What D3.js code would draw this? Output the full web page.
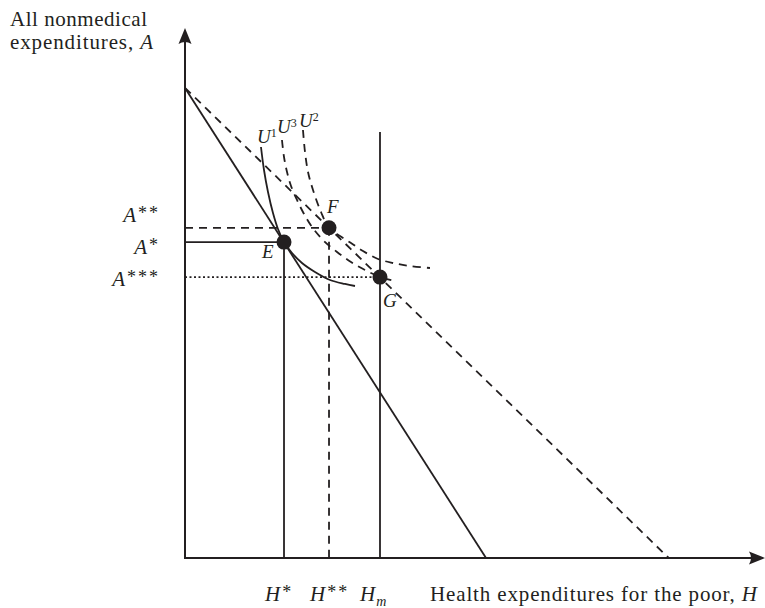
<!DOCTYPE html>
<html>
<head>
<meta charset="utf-8">
<script src="https://cdn.jsdelivr.net/npm/d3@7/dist/d3.min.js"></script>
<style>
  html, body { margin: 0; padding: 0; background: #fff; }
  svg { display: block; }
  text { font-family: "Liberation Serif", "DejaVu Serif", serif; fill: #231f20; }
</style>
</head>
<body>
<script>
// ---------- data ----------
const budgetSolid  = [[0, 88.7], [51.9, 0]];
const budgetDashed = [[0, 88.7], [83.4, 0]];

const pointNames = ["E", "F", "G"];
const pointH     = [17.07, 24.83, 33.62];
const pointA     = [59.6, 62.3, 53.0];

const u1 = [[13.10,77.55],[13.62,73.21],[14.31,69.06],[15.17,65.09],[16.03,62.08],[17.07,59.62],
            [18.45,57.55],[20.17,55.66],[22.41,53.96],[25.00,52.45],[27.59,51.70],[29.31,51.32]];
const u3 = [[16.72,78.87],[17.07,75.66],[17.59,72.83],[18.28,70.19],[19.31,67.55],[20.52,64.91],
            [21.90,62.45],[23.79,60.00],[26.21,57.74],[28.62,55.85],[31.03,54.34],[33.62,53.02],[36.21,52.26]];
const u2 = [[20.34,80.75],[20.69,76.60],[21.21,72.83],[22.07,69.43],[23.45,65.28],[24.83,62.30],
            [26.72,60.75],[28.62,59.43],[30.69,57.92],[33.28,56.42],[35.86,55.66],[38.79,55.09],[42.24,54.72]];

const hmTop = 80.4;

const yTickNames  = ["A", "A", "A"];
const yTickStars  = ["**", "*", "***"];
const yTickValues = [62.3, 59.6, 53.0];

const xTickNames  = ["H", "H", "H"];
const xTickMarks  = ["*", "**", "m"];
const xTickValues = [17.07, 24.83, 33.62];

const yTitle = ["All nonmedical", "expenditures, "];
const xTitle = "Health expenditures for the poor, ";

// ---------- layout ----------
const W = 765, H = 608;
const x = d3.scaleLinear().domain([0, 100]).range([185, 765]);
const y = d3.scaleLinear().domain([0, 100]).range([558, 28]);

const svg = d3.select("body").append("svg").attr("width", W).attr("height", H);
const ink = "#231f20";
const line = d3.line().x(d => x(d[0])).y(d => y(d[1]));
const curve = d3.line().x(d => x(d[0])).y(d => y(d[1])).curve(d3.curveCatmullRom.alpha(0.5));

// axes
svg.append("line").attr("x1", x(0)).attr("x2", x(0)).attr("y1", y(0)).attr("y2", y(100) + 10)
  .attr("stroke", ink).attr("stroke-width", 2);
svg.append("line").attr("x1", x(0) - 1).attr("x2", x(100) - 10).attr("y1", y(0)).attr("y2", y(0))
  .attr("stroke", ink).attr("stroke-width", 2);
svg.append("path")
  .attr("d", `M${x(0)},${y(100)} L${x(0)+6.5},${y(100)+16} Q${x(0)},${y(100)+12} ${x(0)-6.5},${y(100)+16} Z`)
  .attr("fill", ink);
svg.append("path")
  .attr("d", `M${x(100)},${y(0)} L${x(100)-16},${y(0)-6.5} Q${x(100)-12},${y(0)} ${x(100)-16},${y(0)+6.5} Z`)
  .attr("fill", ink);

// budget lines
svg.append("path").attr("d", line(budgetSolid)).attr("fill", "none")
  .attr("stroke", ink).attr("stroke-width", 1.8);
svg.append("path").attr("d", line(budgetDashed)).attr("fill", "none")
  .attr("stroke", ink).attr("stroke-width", 1.8).attr("stroke-dasharray", "8,6");

// guide lines
svg.append("line").attr("x1", x(0)).attr("x2", x(pointH[0])).attr("y1", y(yTickValues[1])).attr("y2", y(yTickValues[1]))
  .attr("stroke", ink).attr("stroke-width", 1.8);
svg.append("line").attr("x1", x(xTickValues[0])).attr("x2", x(xTickValues[0])).attr("y1", y(pointA[0])).attr("y2", y(0))
  .attr("stroke", ink).attr("stroke-width", 1.8);
svg.append("line").attr("x1", x(0)).attr("x2", x(pointH[1])).attr("y1", y(yTickValues[0])).attr("y2", y(yTickValues[0]))
  .attr("stroke", ink).attr("stroke-width", 1.8).attr("stroke-dasharray", "8,6");
svg.append("line").attr("x1", x(xTickValues[1])).attr("x2", x(xTickValues[1])).attr("y1", y(pointA[1])).attr("y2", y(0))
  .attr("stroke", ink).attr("stroke-width", 1.8).attr("stroke-dasharray", "8,6");
svg.append("line").attr("x1", x(0)).attr("x2", x(pointH[2])).attr("y1", y(yTickValues[2])).attr("y2", y(yTickValues[2]))
  .attr("stroke", ink).attr("stroke-width", 1.8).attr("stroke-dasharray", "2,2.5");
svg.append("line").attr("x1", x(xTickValues[2])).attr("x2", x(xTickValues[2])).attr("y1", y(hmTop)).attr("y2", y(0))
  .attr("stroke", ink).attr("stroke-width", 1.8);

// indifference curves
svg.append("path").attr("d", curve(u1)).attr("fill", "none").attr("stroke", ink).attr("stroke-width", 1.8);
svg.append("path").attr("d", curve(u3)).attr("fill", "none").attr("stroke", ink).attr("stroke-width", 1.8)
  .attr("stroke-dasharray", "8,6");
svg.append("path").attr("d", curve(u2)).attr("fill", "none").attr("stroke", ink).attr("stroke-width", 1.8)
  .attr("stroke-dasharray", "8,6");

// points
svg.selectAll("circle.pt").data(pointNames).join("circle").attr("class", "pt")
  .attr("cx", (d, i) => x(pointH[i])).attr("cy", (d, i) => y(pointA[i])).attr("r", 7.5).attr("fill", ink);

// point labels
const ptLabelOffsets = [[-22, 16], [-2, -15], [3, 30]];
svg.selectAll("text.ptl").data(pointNames).join("text").attr("class", "ptl")
  .attr("x", (d, i) => x(pointH[i]) + ptLabelOffsets[i][0])
  .attr("y", (d, i) => y(pointA[i]) + ptLabelOffsets[i][1])
  .attr("font-size", 19).attr("font-style", "italic").text(d => d);

// curve labels
const curveLabels = [["U", "1", u1, [-4, -4]], ["U", "3", u3, [-5, -7]], ["U", "2", u2, [-4, -3]]];
curveLabels.forEach(([t, s, pts, off]) => {
  const tx = svg.append("text").attr("x", x(pts[0][0]) + off[0]).attr("y", y(pts[0][1]) + off[1])
    .attr("font-size", 19);
  tx.append("tspan").attr("font-style", "italic").text(t);
  tx.append("tspan").attr("font-size", 12).attr("dy", -6).text(s);
});

// y tick labels
const yLabelDy = [-6, 12, 9];
yTickNames.forEach((n, i) => {
  const t = svg.append("text").attr("x", 160).attr("y", y(yTickValues[i]) + yLabelDy[i])
    .attr("text-anchor", "end").attr("font-size", 21);
  t.append("tspan").attr("font-style", "italic").text(n);
  t.append("tspan").attr("font-size", 18).attr("dy", -3).attr("dx", 2)
    .attr("letter-spacing", 2).text(yTickStars[i]);
});

// x tick labels
const xLabelX = [265, 310, 360];
xTickNames.forEach((n, i) => {
  const t = svg.append("text").attr("x", xLabelX[i]).attr("y", 601).attr("font-size", 21);
  t.append("tspan").attr("font-style", "italic").text(n);
  if (xTickMarks[i] === "m") {
    t.append("tspan").attr("font-size", 14).attr("font-style", "italic").attr("dy", 5).attr("dx", 1).text("m");
  } else {
    t.append("tspan").attr("font-size", 18).attr("dy", -3).attr("dx", 2)
      .attr("letter-spacing", 2).text(xTickMarks[i]);
  }
});

// axis titles
const xt = svg.append("text").attr("x", 430).attr("y", 601).attr("font-size", 21)
  .attr("textLength", 327).attr("lengthAdjust", "spacing");
xt.append("tspan").text(xTitle);
xt.append("tspan").attr("font-style", "italic").text("H");

svg.append("text").attr("x", 10).attr("y", 26).attr("font-size", 21)
  .attr("textLength", 137).attr("lengthAdjust", "spacing").text(yTitle[0]);
const yt = svg.append("text").attr("x", 10).attr("y", 49).attr("font-size", 21)
  .attr("textLength", 143).attr("lengthAdjust", "spacing");
yt.append("tspan").text(yTitle[1]);
yt.append("tspan").attr("font-style", "italic").text("A");
</script>
</body>
</html>
